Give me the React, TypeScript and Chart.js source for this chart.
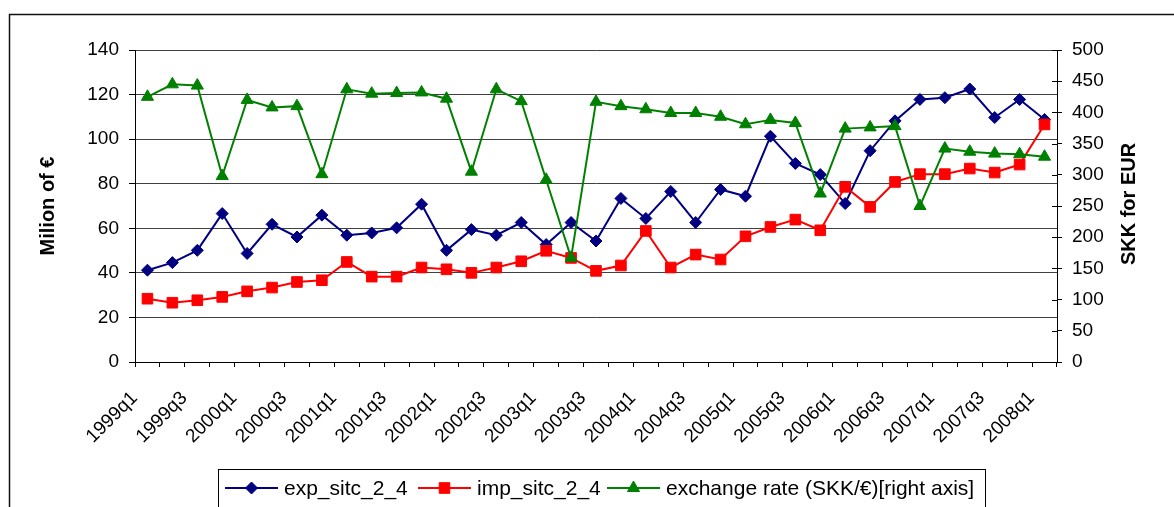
import React, { useEffect, useRef } from 'react';
import { Chart, registerables } from 'chart.js';

Chart.register(...registerables);

const quarters = [
  '1999q1', '1999q2', '1999q3', '1999q4',
  '2000q1', '2000q2', '2000q3', '2000q4',
  '2001q1', '2001q2', '2001q3', '2001q4',
  '2002q1', '2002q2', '2002q3', '2002q4',
  '2003q1', '2003q2', '2003q3', '2003q4',
  '2004q1', '2004q2', '2004q3', '2004q4',
  '2005q1', '2005q2', '2005q3', '2005q4',
  '2006q1', '2006q2', '2006q3', '2006q4',
  '2007q1', '2007q2', '2007q3', '2007q4',
  '2008q1',
];

const expSitc24 = [
  41.2, 44.6, 50.1, 66.6, 48.7, 61.8, 56.1, 65.9, 56.9, 57.9,
  60.2, 70.8, 50.1, 59.4, 56.9, 62.6, 52.7, 62.6, 54.3, 73.4,
  64.4, 76.5, 62.6, 77.4, 74.4, 101.3, 89.1, 84.1, 71.1, 94.8,
  108.2, 117.8, 118.6, 122.5, 109.7, 117.8, 108.8,
];

const impSitc24 = [
  28.4, 26.6, 27.7, 29.2, 31.7, 33.4, 35.9, 36.7, 44.9, 38.3,
  38.3, 42.4, 41.6, 40.0, 42.4, 45.2, 49.9, 46.7, 40.9, 43.3,
  58.8, 42.4, 48.2, 46.0, 56.4, 60.6, 63.9, 59.1, 78.6, 69.6,
  80.8, 84.3, 84.3, 86.8, 85.0, 88.6, 106.6,
];

const exchangeRate = [
  425, 445, 443, 298, 420, 408, 410, 301, 437, 430,
  431, 432, 422, 305, 437, 418, 292, 167, 417, 410,
  405, 399, 399, 393, 381, 388, 383, 270, 374, 376,
  378, 250, 342, 337, 334, 333, 329,
];

const seriesNames = ['exp_sitc_2_4', 'imp_sitc_2_4', 'exchange rate (SKK/€)[right axis]'];
const leftAxisTitle = 'Milion of €';
const rightAxisTitle = 'SKK for EUR';

const FONT = "'Liberation Sans', Arial, Helvetica, sans-serif";
const W = 1174;
const H = 507;

function drawMarker(ctx: CanvasRenderingContext2D, style: string, x: number, y: number, color: string) {
  ctx.save();
  ctx.fillStyle = color;
  ctx.strokeStyle = color;
  ctx.lineWidth = 1;
  ctx.beginPath();
  if (style === 'rectRot') {
    const r = 6;
    ctx.moveTo(x, y - r);
    ctx.lineTo(x + r, y);
    ctx.lineTo(x, y + r);
    ctx.lineTo(x - r, y);
  } else if (style === 'rect') {
    const h = 5.3;
    ctx.rect(x - h, y - h, 2 * h, 2 * h);
  } else {
    const r = 7;
    ctx.moveTo(x, y - r);
    ctx.lineTo(x + r * 0.866, y + r * 0.5);
    ctx.lineTo(x - r * 0.866, y + r * 0.5);
  }
  ctx.closePath();
  ctx.fill();
  ctx.stroke();
  ctx.restore();
}

const decorPlugin = {
  id: 'excelDecor',
  afterDraw(chart: any) {
    const ctx: CanvasRenderingContext2D = chart.ctx;
    ctx.save();

    // outer frame
    ctx.strokeStyle = '#111';
    ctx.lineWidth = 1.5;
    ctx.strokeRect(9.5, 14.5, W + 40, H + 40);

    // inner half of right-axis tick marks
    const y1 = chart.scales.y1;
    ctx.strokeStyle = '#000';
    ctx.lineWidth = 1;
    y1.ticks.forEach((t: any) => {
      const py = Math.round(y1.getPixelForValue(t.value)) + 0.5;
      ctx.beginPath();
      ctx.moveTo(y1.left - 5, py);
      ctx.lineTo(y1.left, py);
      ctx.stroke();
    });

    // axis titles
    const area = chart.chartArea;
    const cy = (area.top + area.bottom) / 2;
    ctx.fillStyle = '#000';
    ctx.font = `bold 20px ${FONT}`;
    ctx.textAlign = 'center';
    ctx.textBaseline = 'middle';
    ctx.save();
    ctx.translate(48, cy);
    ctx.rotate(-Math.PI / 2);
    ctx.fillText(leftAxisTitle, 0, 0);
    ctx.restore();
    ctx.save();
    ctx.translate(1129.5, cy - 2);
    ctx.rotate(-Math.PI / 2);
    ctx.fillText(rightAxisTitle, 0, 0);
    ctx.restore();

    // legend box
    ctx.strokeStyle = '#000';
    ctx.lineWidth = 1;
    ctx.strokeRect(218.5, 469.5, 767, 80);
    const legendY = 488;
    const startX = [225, 418, 607];
    ctx.font = `21px ${FONT}`;
    ctx.textAlign = 'left';
    ctx.textBaseline = 'middle';
    chart.data.datasets.forEach((ds: any, i: number) => {
      const x0 = startX[i];
      const x1 = x0 + 53;
      ctx.strokeStyle = ds.borderColor;
      ctx.lineWidth = 2;
      ctx.beginPath();
      ctx.moveTo(x0, legendY);
      ctx.lineTo(x1, legendY);
      ctx.stroke();
      drawMarker(ctx, ds.pointStyle, (x0 + x1) / 2, legendY, ds.borderColor);
      ctx.fillStyle = '#000';
      ctx.fillText(ds.label, x1 + 6, legendY + 1);
    });

    ctx.restore();
  },
};

export default function App() {
  const canvasRef = useRef<HTMLCanvasElement | null>(null);

  useEffect(() => {
    const canvas = canvasRef.current;
    if (!canvas) return;
    Chart.defaults.color = '#000';
    const chart = new Chart(canvas, {
      type: 'line',
      data: {
        labels: quarters,
        datasets: [
          {
            label: seriesNames[0],
            data: expSitc24,
            yAxisID: 'y',
            borderColor: '#000080',
            backgroundColor: '#000080',
            borderWidth: 2,
            pointStyle: 'rectRot',
            pointRadius: 6,
            pointBorderWidth: 1,
            pointBackgroundColor: '#000080',
            tension: 0,
            order: 3,
          },
          {
            label: seriesNames[1],
            data: impSitc24,
            yAxisID: 'y',
            borderColor: '#FF0000',
            backgroundColor: '#FF0000',
            borderWidth: 2,
            pointStyle: 'rect',
            pointRadius: 7.5,
            pointBorderWidth: 1,
            pointBackgroundColor: '#FF0000',
            tension: 0,
            order: 2,
          },
          {
            label: seriesNames[2],
            data: exchangeRate,
            yAxisID: 'y1',
            borderColor: '#008000',
            backgroundColor: '#008000',
            borderWidth: 2,
            pointStyle: 'triangle',
            pointRadius: 7,
            pointBorderWidth: 1,
            pointBackgroundColor: '#008000',
            tension: 0,
            order: 1,
          },
        ],
      },
      options: {
        responsive: false,
        animation: false,
        devicePixelRatio: 1,
        layout: { padding: { top: 50, left: 0, right: 0, bottom: 0 } },
        plugins: {
          legend: { display: false },
          tooltip: { enabled: false },
          title: { display: false },
        },
        scales: {
          x: {
            type: 'category',
            offset: true,
            grid: {
              offset: true,
              drawOnChartArea: false,
              drawTicks: true,
              tickLength: 5,
              color: '#000',
            },
            border: { display: true, color: '#000', width: 1 },
            ticks: {
              autoSkip: false,
              maxRotation: 45,
              minRotation: 45,
              labelOffset: -13,
              padding: 20,
              color: '#000',
              font: { family: FONT, size: 19 },
              callback: (_v: any, i: number) => (i % 2 === 0 ? quarters[i] : ''),
            },
            afterFit: (s: any) => {
              s.height = 145;
            },
          },
          y: {
            position: 'left',
            min: 0,
            max: 140,
            grid: {
              color: '#404040',
              tickColor: '#000',
              drawTicks: true,
              tickLength: 6,
              lineWidth: 1,
            },
            border: { display: true, color: '#000', width: 1 },
            ticks: {
              stepSize: 20,
              padding: 10,
              color: '#000',
              font: { family: FONT, size: 19 },
            },
            afterFit: (s: any) => {
              s.width = 135;
            },
          },
          y1: {
            position: 'right',
            min: 0,
            max: 500,
            grid: {
              drawOnChartArea: false,
              drawTicks: true,
              tickLength: 5,
              color: '#000',
            },
            border: { display: true, color: '#000', width: 1 },
            ticks: {
              stepSize: 50,
              padding: 10,
              color: '#000',
              font: { family: FONT, size: 19 },
            },
            afterFit: (s: any) => {
              s.width = W - 1057;
            },
          },
        },
      },
      plugins: [decorPlugin],
    });
    return () => chart.destroy();
  }, []);

  return (
    <div style={{ position: 'fixed', left: 0, top: 0, width: W, height: H, background: '#fff', overflow: 'hidden' }}>
      <canvas ref={canvasRef} width={W} height={H} style={{ width: W, height: H, display: 'block' }} />
    </div>
  );
}
